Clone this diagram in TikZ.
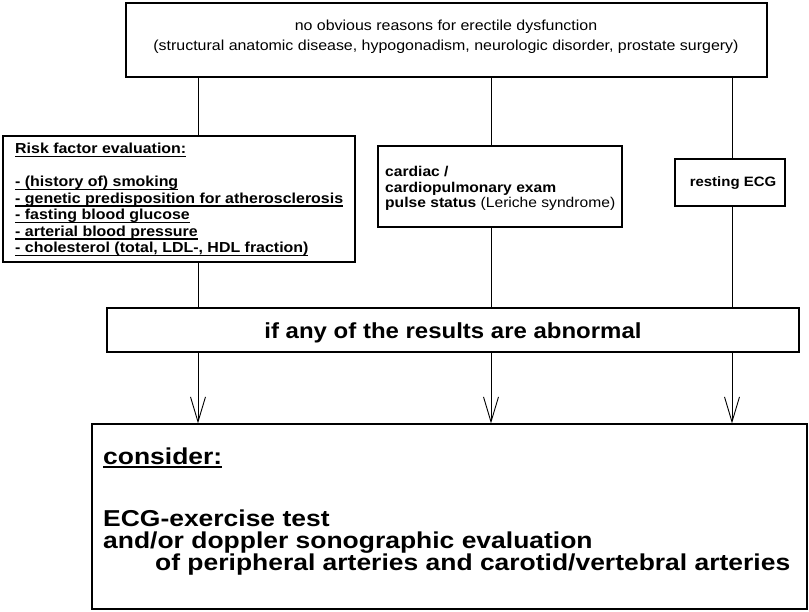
\documentclass[tikz,border=0pt]{standalone}
\usepackage{fontspec}
\setmainfont[FakeStretch=1.1]{Liberation Sans}
\newfontfamily\widefont[FakeStretch=1.15]{Liberation Sans}
\usetikzlibrary{arrows.meta}
% underline with a chosen depth and thickness: #1 depth, #2 thickness, #3 text
\newcommand{\ulbox}[3]{\setbox0=\hbox{#3}\leavevmode\rlap{\copy0}\raisebox{-#1}{\rule{\wd0}{#2}}}
\newcommand{\ulr}[1]{\ulbox{3.5pt}{1.2pt}{#1}}
\begin{document}
\begin{tikzpicture}[x=1pt,y=-1pt,
  frame/.style={draw, line width=1.1pt, inner sep=0pt},
  txt/.style={inner sep=0pt, align=left},
  link/.style={line width=0.9pt},
  arrowlink/.style={line width=0.9pt, -{Straight Barb[length=25pt,width=15pt,line width=0.9pt]}}]
\useasboundingbox (0,0) rectangle (809,611);

% boxes
\node[frame, minimum width=641pt, minimum height=74pt]  (top)     at (446.5,40)  {};
\node[frame, minimum width=352pt, minimum height=126pt] (risk)    at (179,199)   {};
\node[frame, minimum width=244pt, minimum height=81pt]  (cardiac) at (500,186.5) {};
\node[frame, minimum width=110pt, minimum height=47pt]  (ecg)     at (730,182.5) {};
\node[frame, minimum width=692pt, minimum height=44pt]  (cond)    at (453,330)   {};
\node[frame, minimum width=715pt, minimum height=185pt] (final)   at (449.5,516.5) {};

% texts (a multi-line node's base anchor sits on its last line)
\node[txt, align=center, anchor=base, font=\fontsize{14.5}{20.5}\selectfont] (toptext) at (446,50.5)
  {no obvious reasons for erectile dysfunction\\
   (structural anatomic disease, hypogonadism, neurologic disorder, prostate surgery)};
\node[txt, anchor=base west, font=\bfseries\fontsize{14.5}{16.5}\selectfont] (risktext) at (15,252.5)
  {\ulr{Risk factor evaluation:}\\[16.5pt]
   \ulr{- (history of) smoking}\\
   \ulr{- genetic predisposition for atherosclerosis}\\
   \ulr{- fasting blood glucose}\\
   \ulr{- arterial blood pressure}\\
   \ulr{- cholesterol (total, LDL-, HDL fraction)}};
\node[txt, anchor=base west, font=\bfseries\fontsize{14.2}{15.5}\selectfont] (cardiactext) at (385,207.5)
  {cardiac /\\
   cardiopulmonary exam\\
   pulse status \mdseries(Leriche syndrome)};
\node[txt, anchor=base, font=\bfseries\fontsize{13.6}{15}\selectfont] (ecgtext) at (733,186.5) {resting ECG};
\node[txt, anchor=base, font=\bfseries\fontsize{21.8}{24}\selectfont] (condtext) at (453,338)
  {if any of the results are abnormal};
\node[txt, anchor=base west, font=\widefont\bfseries\fontsize{23}{22}\selectfont] (finaltext) at (103,570)
  {\ulbox{4pt}{2pt}{consider:}\\[40pt]
   ECG-exercise test\\
   and/or doppler sonographic evaluation\\
   \hspace*{52pt}of peripheral arteries and carotid/vertebral arteries};

% connector columns
\coordinate (c1) at (198,0);
\coordinate (c2) at (491,0);
\coordinate (c3) at (732,0);

\draw[link] (top.south -| c1) -- (risk.north -| c1);
\draw[link] (top.south -| c2) -- (cardiac.north -| c2);
\draw[link] (top.south -| c3) -- (ecg.north -| c3);
\draw[link] (risk.south -| c1) -- (cond.north -| c1);
\draw[link] (cardiac.south -| c2) -- (cond.north -| c2);
\draw[link] (ecg.south -| c3) -- (cond.north -| c3);
\draw[arrowlink] (cond.south -| c1) -- (final.north -| c1);
\draw[arrowlink] (cond.south -| c2) -- (final.north -| c2);
\draw[arrowlink] (cond.south -| c3) -- (final.north -| c3);
\end{tikzpicture}
\end{document}
